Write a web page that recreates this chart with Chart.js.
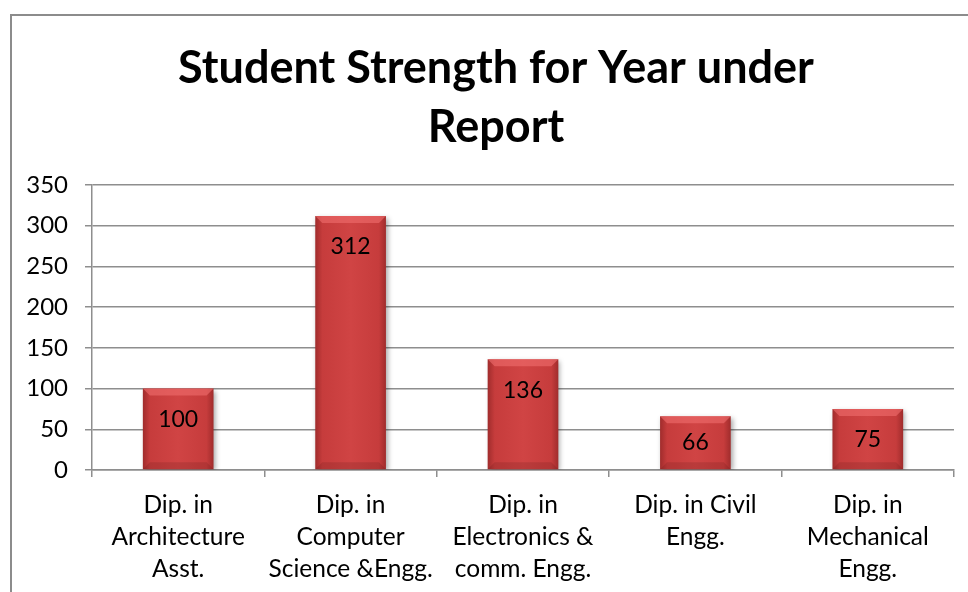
<!DOCTYPE html>
<html>
<head>
<meta charset="utf-8">
<script src="https://cdn.jsdelivr.net/npm/chart.js@4/dist/chart.umd.min.js"></script>
<style>
  html, body { margin: 0; padding: 0; background: #fff; overflow: hidden; }
  #frame { position: absolute; left: 10px; top: 14px; width: 1000px; height: 1000px;
           border-left: 2px solid #8c8c8c; border-top: 2px solid #8c8c8c; }
  #wrap { position: absolute; left: 0; top: 0; width: 968px; height: 592px; }
</style>
</head>
<body>
<div id="frame"></div>
<div id="wrap"><canvas id="chart" width="968" height="592"></canvas></div>
<script>
// Data
const chartTitle = ['Student Strength for Year under', 'Report'];
const categories = [
    ['Dip. in', 'Architecture', 'Asst.'],
    ['Dip. in', 'Computer', 'Science &Engg.'],
    ['Dip. in', 'Electronics &', 'comm. Engg.'],
    ['Dip. in Civil', 'Engg.'],
    ['Dip. in', 'Mechanical', 'Engg.']
];
const strength = [100, 312, 136, 66, 75];
const yTicks = [0, 50, 100, 150, 200, 250, 300, 350];

const FONT = 'Lato, Carlito, Calibri, sans-serif';
const gridGray = '#8e8e8e';
const BAR_FRACTION = 0.41;

// horizontal gradient across each bar, darker at the edges
function barFill(ctx) {
    const chart = ctx.chart;
    if (!chart.chartArea) return '#c83c3c';
    const x = chart.scales.x.getPixelForValue(ctx.dataIndex);
    const half = chart.scales.x.width / categories.length * BAR_FRACTION / 2;
    const g = chart.ctx.createLinearGradient(x - half, 0, x + half, 0);
    g.addColorStop(0, '#a02c2c');
    g.addColorStop(0.1, '#c63c3c');
    g.addColorStop(0.5, '#d04444');
    g.addColorStop(0.9, '#c63c3c');
    g.addColorStop(1, '#a02c2c');
    return g;
}

// title drawn by hand so it can sit off the plot centre
const titlePlugin = {
    id: 'titlePlugin',
    beforeDraw(chart) {
        const c = chart.ctx;
        c.save();
        c.fillStyle = '#000';
        c.font = 'bold 45px ' + FONT;
        c.textAlign = 'center';
        c.textBaseline = 'alphabetic';
        c.fillText(chartTitle[0], 496, 83);
        c.fillText(chartTitle[1], 496, 142);
        c.restore();
    }
};

// drop shadow under the bars
const barShadow = {
    id: 'barShadow',
    beforeDatasetsDraw(chart) {
        const c = chart.ctx;
        c.save();
        c.shadowColor = 'rgba(0,0,0,0.35)';
        c.shadowBlur = 5;
        c.shadowOffsetX = 2;
        c.shadowOffsetY = 2;
    },
    afterDatasetsDraw(chart) {
        chart.ctx.restore();
    }
};

// top bevel + value labels inside the bar
const barLabels = {
    id: 'barLabels',
    afterDatasetsDraw(chart) {
        const c = chart.ctx;
        const meta = chart.getDatasetMeta(0);
        c.save();
        meta.data.forEach((bar, i) => {
            const l = bar.x - bar.width / 2, r = bar.x + bar.width / 2;
            const top = bar.y, bottom = bar.base;
            const b = 7;
            c.fillStyle = 'rgba(240,110,110,0.6)';
            c.beginPath();
            c.moveTo(l, top); c.lineTo(r, top); c.lineTo(r - b, top + b); c.lineTo(l + b, top + b);
            c.closePath(); c.fill();
            c.fillStyle = 'rgba(90,20,20,0.18)';
            c.beginPath();
            c.moveTo(l, bottom); c.lineTo(r, bottom); c.lineTo(r - b, bottom - b); c.lineTo(l + b, bottom - b);
            c.closePath(); c.fill();

            const y = Math.min(top + 31, (top + bottom) / 2);
            c.fillStyle = '#000';
            c.font = '23px ' + FONT;
            c.textAlign = 'center';
            c.textBaseline = 'middle';
            c.fillText(String(strength[i]), bar.x, y);
        });
        c.restore();
    }
};

new Chart(document.getElementById('chart').getContext('2d'), {
    type: 'bar',
    data: {
        labels: categories,
        datasets: [{
            label: 'Student Strength',
            data: strength,
            backgroundColor: barFill,
            borderWidth: 0,
            barPercentage: BAR_FRACTION,
            categoryPercentage: 1
        }]
    },
    options: {
        responsive: false,
        animation: false,
        layout: { padding: { left: 0, right: 14, top: 185, bottom: 0 } },
        plugins: {
            legend: { display: false },
            tooltip: { enabled: false },
            title: { display: false }
        },
        scales: {
            x: {
                grid: { drawOnChartArea: false, offset: true, tickLength: 7, color: gridGray, lineWidth: 1.5 },
                border: { color: gridGray, width: 1.5 },
                ticks: {
                    color: '#000', padding: 12, maxRotation: 0, autoSkip: false,
                    font: { family: FONT, size: 24.5, lineHeight: 1.306 }
                },
                afterFit(scale) { scale.height = 122; }
            },
            y: {
                min: 0, max: 350,
                afterBuildTicks(scale) { scale.ticks = yTicks.map(v => ({ value: v })); },
                grid: { color: gridGray, lineWidth: 1.5, tickLength: 7 },
                border: { color: gridGray, width: 1.5 },
                ticks: { color: '#000', padding: 17, font: { family: FONT, size: 24 } },
                afterFit(scale) { scale.width = 92; }
            }
        }
    },
    plugins: [titlePlugin, barShadow, barLabels]
});
</script>
</body>
</html>
